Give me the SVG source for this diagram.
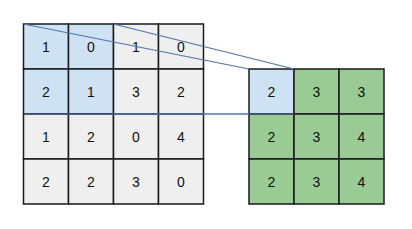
<svg xmlns="http://www.w3.org/2000/svg" width="412" height="229" viewBox="0 0 412 229">
<style>
.g{fill:#efefef;stroke:#1a1a1a;stroke-width:1.5}
.b{fill:#cfe2f3;stroke:#1a1a1a;stroke-width:1.5}
.gr{fill:#9acb94;stroke:#1a1a1a;stroke-width:1.5}
text{font-family:"Liberation Sans",Arial,sans-serif;font-size:14px;fill:#111;text-anchor:middle;dominant-baseline:central}
.c line{stroke:#4f74b0;stroke-width:1.2}
</style>
<rect width="412" height="229" fill="#fff"/>
<g id="input">
<rect class="b" x="23.5" y="24" width="45" height="45"/><text x="46" y="47">1</text>
<rect class="b" x="68.5" y="24" width="45" height="45"/><text x="91" y="47">0</text>
<rect class="g" x="113.5" y="24" width="45" height="45"/><text x="136" y="47">1</text>
<rect class="g" x="158.5" y="24" width="45" height="45"/><text x="181" y="47">0</text>
<rect class="b" x="23.5" y="69" width="45" height="45"/><text x="46" y="92">2</text>
<rect class="b" x="68.5" y="69" width="45" height="45"/><text x="91" y="92">1</text>
<rect class="g" x="113.5" y="69" width="45" height="45"/><text x="136" y="92">3</text>
<rect class="g" x="158.5" y="69" width="45" height="45"/><text x="181" y="92">2</text>
<rect class="g" x="23.5" y="114" width="45" height="45"/><text x="46" y="137">1</text>
<rect class="g" x="68.5" y="114" width="45" height="45"/><text x="91" y="137">2</text>
<rect class="g" x="113.5" y="114" width="45" height="45"/><text x="136" y="137">0</text>
<rect class="g" x="158.5" y="114" width="45" height="45"/><text x="181" y="137">4</text>
<rect class="g" x="23.5" y="159" width="45" height="45"/><text x="46" y="182">2</text>
<rect class="g" x="68.5" y="159" width="45" height="45"/><text x="91" y="182">2</text>
<rect class="g" x="113.5" y="159" width="45" height="45"/><text x="136" y="182">3</text>
<rect class="g" x="158.5" y="159" width="45" height="45"/><text x="181" y="182">0</text>
</g>
<g id="output">
<rect class="b" x="249" y="69" width="45" height="45"/><text x="271.5" y="92">2</text>
<rect class="gr" x="294" y="69" width="45" height="45"/><text x="316.5" y="92">3</text>
<rect class="gr" x="339" y="69" width="45" height="45"/><text x="361.5" y="92">3</text>
<rect class="gr" x="249" y="114" width="45" height="45"/><text x="271.5" y="137">2</text>
<rect class="gr" x="294" y="114" width="45" height="45"/><text x="316.5" y="137">3</text>
<rect class="gr" x="339" y="114" width="45" height="45"/><text x="361.5" y="137">4</text>
<rect class="gr" x="249" y="159" width="45" height="45"/><text x="271.5" y="182">2</text>
<rect class="gr" x="294" y="159" width="45" height="45"/><text x="316.5" y="182">3</text>
<rect class="gr" x="339" y="159" width="45" height="45"/><text x="361.5" y="182">4</text>
</g>
<g id="connectors" class="c">
<line x1="23.5" y1="24" x2="249" y2="69"/>
<line x1="113.5" y1="24" x2="294" y2="69"/>
<line x1="23.5" y1="114" x2="249" y2="114"/>
<line x1="113.5" y1="114" x2="294" y2="114"/>
</g>
</svg>
